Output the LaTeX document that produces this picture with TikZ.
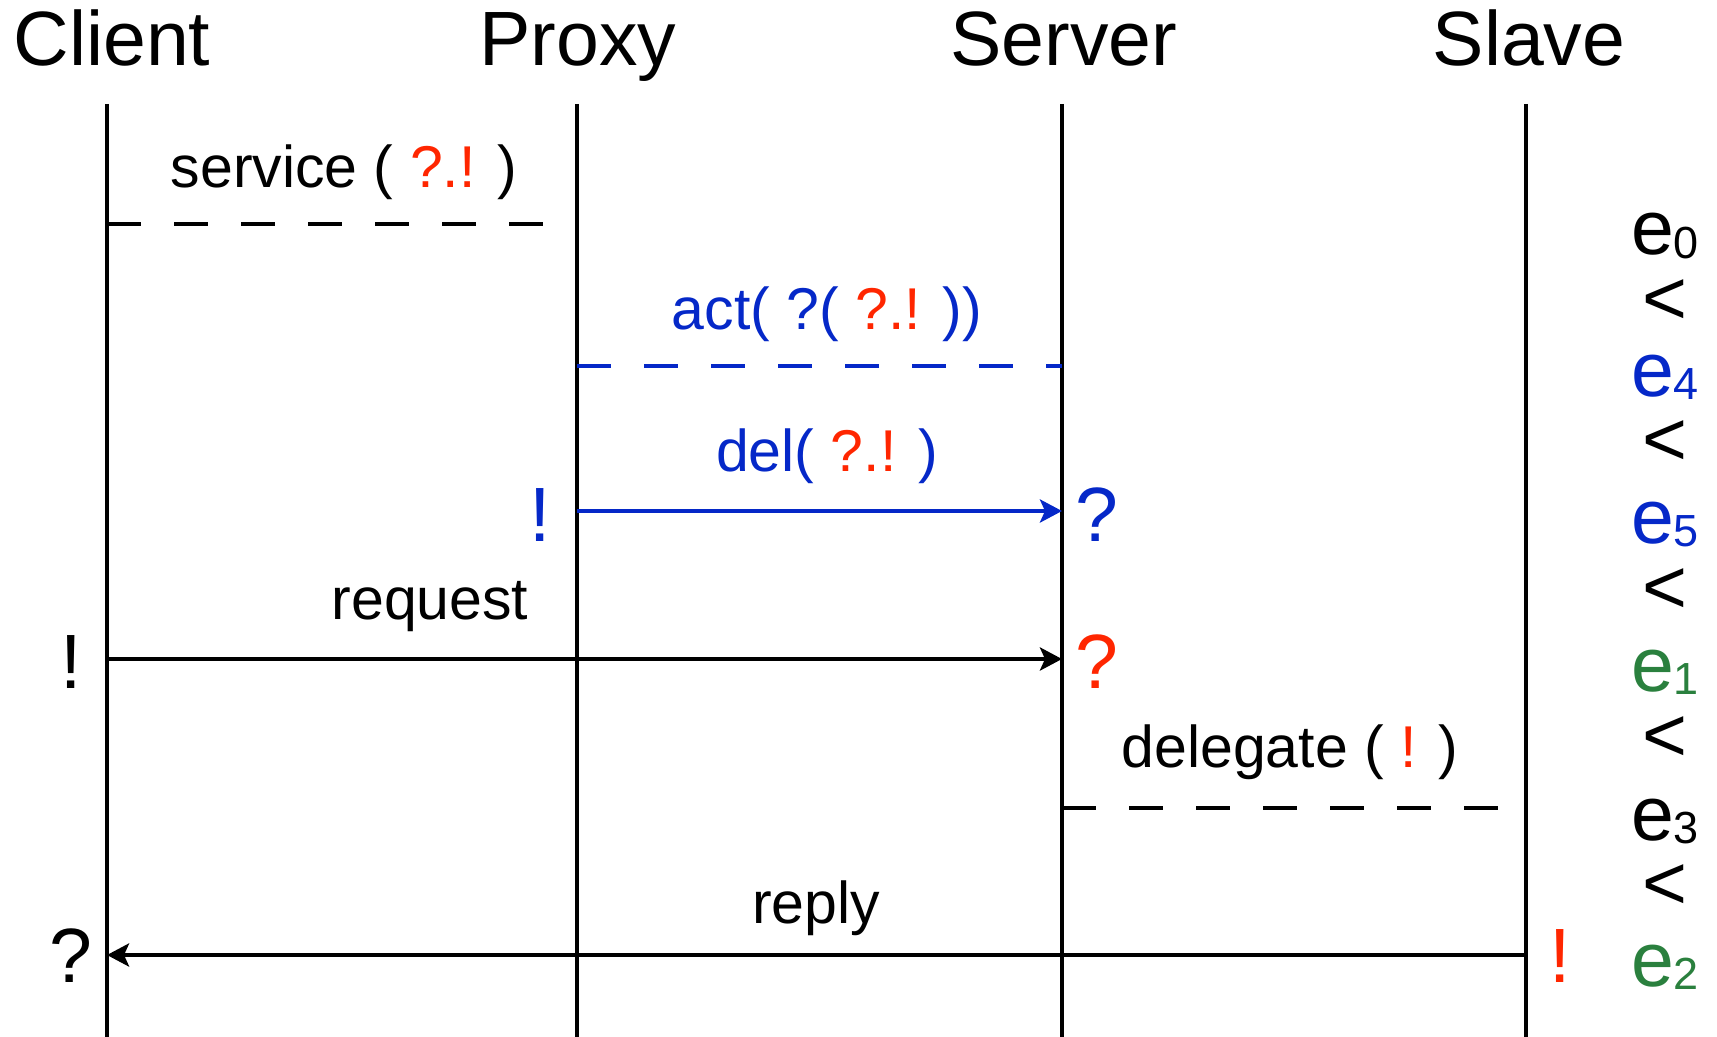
\documentclass[tikz,border=0pt]{standalone}
\usepackage{fontspec}
\setmainfont{Liberation Sans}
\usetikzlibrary{arrows.meta}
\definecolor{cblue}{RGB}{5,40,200}
\definecolor{cred}{RGB}{255,38,0}
\definecolor{cgreen}{RGB}{42,128,62}
\newcommand{\subn}[1]{{\fontsize{22.5}{23}\selectfont\raisebox{-1.6pt}{#1}}}
\begin{document}
\begin{tikzpicture}[x=0.5pt,y=-0.5pt,
  title/.style={font=\fontsize{38.5}{40}\selectfont, anchor=base, inner sep=0pt},
  lbl/.style={font=\fontsize{29.5}{31}\selectfont, anchor=base, inner sep=0pt},
  sym/.style={font=\fontsize{38.5}{40}\selectfont, anchor=base, inner sep=0pt},
  life/.style={line width=2.4pt},
  msg/.style={line width=2.4pt, -{Stealth[length=11pt,width=11.5pt,inset=2.5pt]}},
  dsh/.style={line width=2.4pt, dash pattern=on 17pt off 16.5pt}
]
\useasboundingbox (0,0) rectangle (1717,1037);

% titles
\node[title] (tC) at (112,66) {Client};
\node[title] (tP) at (578,66) {Proxy};
\node[title] (tS) at (1064,66) {Server};
\node[title] (tL) at (1529,66) {Slave};

% lifelines
\coordinate (C0) at (107,104); \coordinate (C1) at (107,1037);
\coordinate (P0) at (577,104); \coordinate (P1) at (577,1037);
\coordinate (S0) at (1062,104); \coordinate (S1) at (1062,1037);
\coordinate (L0) at (1526,104); \coordinate (L1) at (1526,1037);
\draw[life] (C0) -- (C1);
\draw[life] (P0) -- (P1);
\draw[life] (S0) -- (S1);
\draw[life] (L0) -- (L1);

% service
\node[lbl] (lsvc) at (344,188) {service ( \textcolor{cred}{?.!} )};
\coordinate (svcA) at (107,224); \coordinate (svcB) at (548,224);
\draw[dsh] (svcA) -- (svcB);

% act
\node[lbl, text=cblue] (lact) at (827,329) {act( ?( \textcolor{cred}{?.!} ))};
\coordinate (actA) at (577,366); \coordinate (actB) at (1062,366);
\draw[dsh, draw=cblue] (actA) -- (actB);

% del
\node[lbl, text=cblue] (ldel) at (827,471) {del( \textcolor{cred}{?.!} )};
\coordinate (delA) at (577,511); \coordinate (delB) at (1062,511);
\draw[msg, draw=cblue, fill=cblue] (delA) -- (delB);
\node[sym, text=cblue] (delS) at (540,541) {!};
\node[sym, text=cblue] (delR) at (1097,541) {?};

% request
\node[lbl] (lreq) at (430,619) {request};
\coordinate (reqA) at (107,659); \coordinate (reqB) at (1062,659);
\draw[msg] (reqA) -- (reqB);
\node[sym] (reqS) at (71,688) {!};
\node[sym, text=cred] (reqR) at (1097,688) {?};

% delegate
\node[lbl] (ldlg) at (1290,767) {delegate ( \textcolor{cred}{!} )};
\coordinate (dlgA) at (1062,808); \coordinate (dlgB) at (1502,808);
\draw[dsh] (dlgA) -- (dlgB);

% reply
\node[lbl] (lrep) at (816,923) {reply};
\coordinate (repA) at (1526,955); \coordinate (repB) at (107,955);
\draw[msg] (repA) -- (repB);
\node[sym, text=cred] (repS) at (1560,982) {!};
\node[sym] (repR) at (71,982) {?};

% ordering
\node[sym] (e0) at (1665,255) {e\subn{0}};
\node[sym] (lt1) at (1665,325) {<};
\node[sym, text=cblue] (e4) at (1665,396) {e\subn{4}};
\node[sym] (lt2) at (1665,465) {<};
\node[sym, text=cblue] (e5) at (1665,543) {e\subn{5}};
\node[sym] (lt3) at (1665,613) {<};
\node[sym, text=cgreen] (e1) at (1665,691) {e\subn{1}};
\node[sym] (lt4) at (1665,761) {<};
\node[sym] (e3) at (1665,840) {e\subn{3}};
\node[sym] (lt5) at (1665,909) {<};
\node[sym, text=cgreen] (e2) at (1665,986) {e\subn{2}};
\end{tikzpicture}
\end{document}
